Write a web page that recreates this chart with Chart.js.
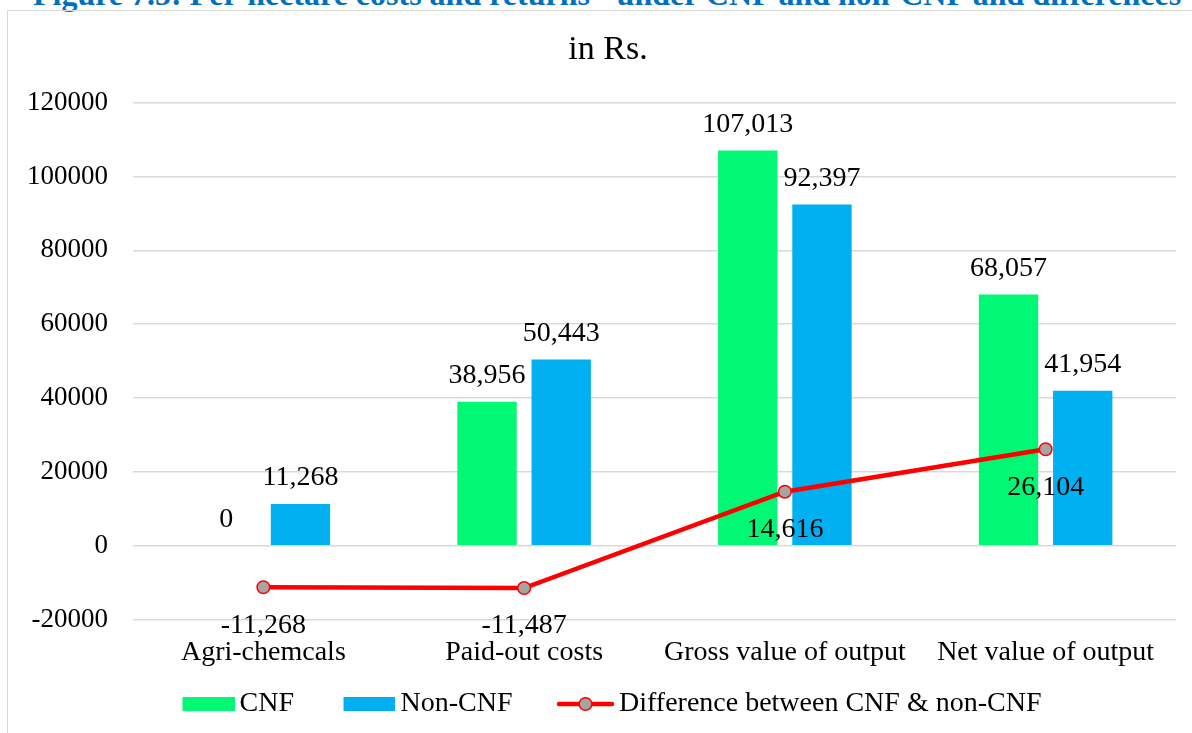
<!DOCTYPE html>
<html>
<head>
<meta charset="utf-8">
<style>
  html, body { margin: 0; padding: 0; background: #fff; overflow: hidden; }
  body { width: 1192px; height: 733px; position: relative; }
  #caption {
    position: absolute; left: 33px; top: -22px; white-space: nowrap;
    font: bold 32px "Liberation Serif", "Times New Roman", serif;
    line-height: 32px; color: #0070C0;
  }
  #frame {
    position: absolute; left: 7px; top: 10px; width: 1210px; height: 740px;
    border: 1.5px solid #d9d9d9; box-sizing: border-box;
  }
  #box { position: absolute; left: 8px; top: 11px; width: 1184px; height: 717px; }
</style>
</head>
<body>
<div id="caption">Figure 7.5: Per-hectare costs and returns - under CNF and non-CNF and differences</div>
<div id="frame"></div>
<div id="box"><canvas id="myChart"></canvas></div>

<script src="https://cdn.jsdelivr.net/npm/chart.js@4"></script>
<script>
    // per-hectare figures, Rs.
    const categories = ['Agri-chemcals', 'Paid-out costs', 'Gross value of output', 'Net value of output'];
    const cnfValues = [0, 38956, 107013, 68057];
    const nonCnfValues = [11268, 50443, 92397, 41954];
    const diffValues = [-11268, -11487, 14616, 26104];
    const yTicks = [-20000, 0, 20000, 40000, 60000, 80000, 100000, 120000];

    const FONT = '"Liberation Serif", "Times New Roman", serif';
    const BOX_W = 88;

    // legend symbols drawn onto small canvases, right-aligned so the text sits close
    function legendSymbol(kind, color) {
        const c = document.createElement('canvas');
        c.width = BOX_W + 18;
        c.height = 22;
        const g = c.getContext('2d');
        const right = c.width;
        if (kind === 'rect') {
            g.fillStyle = color;
            g.fillRect(right - 52, 4, 52, 14);
        } else {
            g.strokeStyle = '#FF0000';
            g.lineWidth = 4.5;
            g.lineCap = 'round';
            g.beginPath();
            g.moveTo(right - 55, 11);
            g.lineTo(right - 2, 11);
            g.stroke();
            g.beginPath();
            g.arc(right - 28.5, 11, 6.3, 0, Math.PI * 2);
            g.fillStyle = '#A5A5A5';
            g.fill();
            g.lineWidth = 1.5;
            g.strokeStyle = '#FF0000';
            g.stroke();
        }
        return c;
    }

    // value labels: above bars, below line points
    const valueLabels = {
        id: 'valueLabels',
        afterDatasetsDraw(chart) {
            const ctx = chart.ctx;
            ctx.save();
            ctx.font = '28px ' + FONT;
            ctx.fillStyle = '#000';
            ctx.textAlign = 'center';
            ctx.textBaseline = 'middle';
            chart.data.datasets.forEach((ds, i) => {
                const meta = chart.getDatasetMeta(i);
                meta.data.forEach((el, j) => {
                    const txt = ds.data[j].toLocaleString('en-US');
                    if (ds.type === 'line') {
                        ctx.fillText(txt, el.x, el.y + 38);
                    } else {
                        ctx.fillText(txt, el.x, el.y - 26);
                    }
                });
            });
            ctx.restore();
        }
    };

    const ctx = document.getElementById('myChart');

    let chart = new Chart(ctx, {
        type: 'bar',
        data: {
            labels: categories,
            datasets: [{
                label: 'CNF',
                data: cnfValues,
                backgroundColor: '#00F874',
                categoryPercentage: 0.569,
                barPercentage: 0.8,
                order: 1
            }, {
                label: 'Non-CNF',
                data: nonCnfValues,
                backgroundColor: '#00B0F0',
                categoryPercentage: 0.569,
                barPercentage: 0.8,
                order: 1
            }, {
                type: 'line',
                label: 'Difference between CNF & non-CNF',
                data: diffValues,
                borderColor: '#FF0000',
                borderWidth: 4.5,
                pointRadius: 6.3,
                pointBackgroundColor: '#A5A5A5',
                pointBorderColor: '#FF0000',
                pointBorderWidth: 1.5,
                tension: 0,
                order: 0
            }]
        },
        options: {
            responsive: true,
            maintainAspectRatio: false,
            animation: false,
            layout: { padding: { left: 32, right: 16, top: 0, bottom: 0 } },
            plugins: {
                title: {
                    display: true,
                    text: 'in Rs.',
                    color: '#000',
                    font: { family: FONT, size: 34, weight: 'normal' },
                    padding: { top: 18.6, bottom: 32.2 }
                },
                legend: {
                    position: 'bottom',
                    fullSize: false,
                    align: 'start',
                    labels: {
                        usePointStyle: true,
                        pointStyleWidth: BOX_W,
                        padding: 4.5,
                        color: '#000',
                        font: { family: FONT, size: 28 },
                        generateLabels(chart) {
                            return chart.data.datasets.map((ds, i) => ({
                                text: ds.label,
                                datasetIndex: i,
                                fillStyle: ds.backgroundColor,
                                strokeStyle: ds.borderColor,
                                lineWidth: 0,
                                fontColor: '#000',
                                hidden: false,
                                pointStyle: ds.type === 'line'
                                    ? legendSymbol('line')
                                    : legendSymbol('rect', ds.backgroundColor)
                            }));
                        }
                    }
                },
                tooltip: { enabled: false }
            },
            scales: {
                x: {
                    grid: { display: false, drawTicks: false },
                    border: { display: false },
                    ticks: {
                        color: '#000',
                        padding: 16.2,
                        maxRotation: 0,
                        font: { family: FONT, size: 28 }
                    }
                },
                y: {
                    min: yTicks[0],
                    max: yTicks[yTicks.length - 1],
                    afterFit(scale) { scale.width = 93; },
                    afterBuildTicks(scale) { scale.ticks = yTicks.map(v => ({ value: v })); },
                    grid: { color: '#d9d9d9', lineWidth: 1.5, drawTicks: false },
                    border: { display: false },
                    ticks: {
                        color: '#000',
                        // labels hang left of the axis line, right edge 25px from the plot
                        mirror: true,
                        crossAlign: 'far',
                        padding: -106,
                        font: { family: FONT, size: 27 },
                        callback: v => String(v)
                    }
                }
            }
        },
        plugins: [valueLabels]
    });
</script>
</body>
</html>
